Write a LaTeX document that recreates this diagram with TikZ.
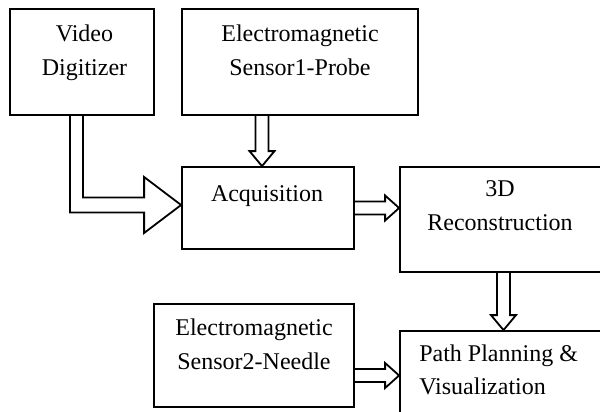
\documentclass[tikz,border=0pt]{standalone}
\usepackage{fontspec}
\setmainfont{Liberation Serif}
\usetikzlibrary{calc}

% hollow block arrows: #1 start point, #2 tip
\newcommand{\varrow}[2]{%
  \draw[blockarrow] let \p1=(#1), \p2=(#2) in
    (\x2-6.5pt,\y1) -- (\x2-6.5pt,\y2+15pt) -- (\x2-12.5pt,\y2+15pt) -- (\p2)
    -- (\x2+12.5pt,\y2+15pt) -- (\x2+6.5pt,\y2+15pt) -- (\x2+6.5pt,\y1);}
\newcommand{\harrow}[2]{%
  \draw[blockarrow] let \p1=(#1), \p2=(#2) in
    (\x1,\y2+6.5pt) -- (\x2-14pt,\y2+6.5pt) -- (\x2-14pt,\y2+12.5pt) -- (\p2)
    -- (\x2-14pt,\y2-12.5pt) -- (\x2-14pt,\y2-6.5pt) -- (\x1,\y2-6.5pt);}

\begin{document}
\begin{tikzpicture}[
    x=1pt, y=1pt,
    every node/.style={font=\fontsize{24}{34}\selectfont},
    box/.style={
        rectangle,
        draw=black,
        line width=1.8pt,
        inner sep=0pt
    },
    txt/.style={
        anchor=north,
        align=center,
        inner sep=0pt
    },
    blockarrow/.style={
        draw=black,
        line width=1.8pt,
        line join=miter
    }
]

\clip (0,0) rectangle (600,-412);

\node[box, minimum width=144, minimum height=106] (vid) at (82,-62) {};
\node[box, minimum width=236, minimum height=106] (sen1) at (300,-62) {};
\node[box, minimum width=172, minimum height=82] (acq) at (268,-208) {};
\node[box, minimum width=202, minimum height=105] (rec) at (501,-219.5) {};
\node[box, minimum width=200, minimum height=103] (sen2) at (254,-355.5) {};
\node[box, minimum width=207, minimum height=89] (path) at (503.5,-375.5) {};

\node[txt] (vidlab) at ([xshift=2.5pt,yshift=-16.6pt]vid.north) {Video\\Digitizer};
\node[txt] (sen1lab) at ([yshift=-16.6pt]sen1.north) {Electromagnetic\\Sensor1-Probe};
\node[txt] (acqlab) at ([xshift=-1pt,yshift=-19.6pt]acq.north) {Acquisition};
\node[txt] (reclab) at ([xshift=-1pt,yshift=-14.6pt]rec.north) {3D\\Reconstruction};
\node[txt] (sen2lab) at ([yshift=-15.6pt]sen2.north) {Electromagnetic\\Sensor2-Needle};
\node[txt, anchor=north west, align=left, font=\fontsize{24}{33}\selectfont] (pathlab)
    at ([xshift=20pt,yshift=-14.6pt]path.north west) {Path Planning \&\\Visualization};

% big arrow from the digitizer
\draw[blockarrow] let \p1=([xshift=-5.5pt]vid.south), \p2=([yshift=3pt]acq.west) in
    (\x1+6.5pt,\y1) -- (\x1+6.5pt,\y2+7.5pt) -- (\x2-37pt,\y2+7.5pt) -- (\x2-37pt,\y2+28pt)
    -- (\p2) -- (\x2-37pt,\y2-28pt) -- (\x2-37pt,\y2-7.5pt) -- (\x1-6.5pt,\y2-7.5pt)
    -- (\x1-6.5pt,\y1);

\varrow{sen1.south}{[xshift=-6pt]acq.north}
\harrow{acq.east}{rec.west |- acq.east}
\varrow{rec.south}{path.north}
\harrow{sen2.east}{path.west}

\end{tikzpicture}
\end{document}
